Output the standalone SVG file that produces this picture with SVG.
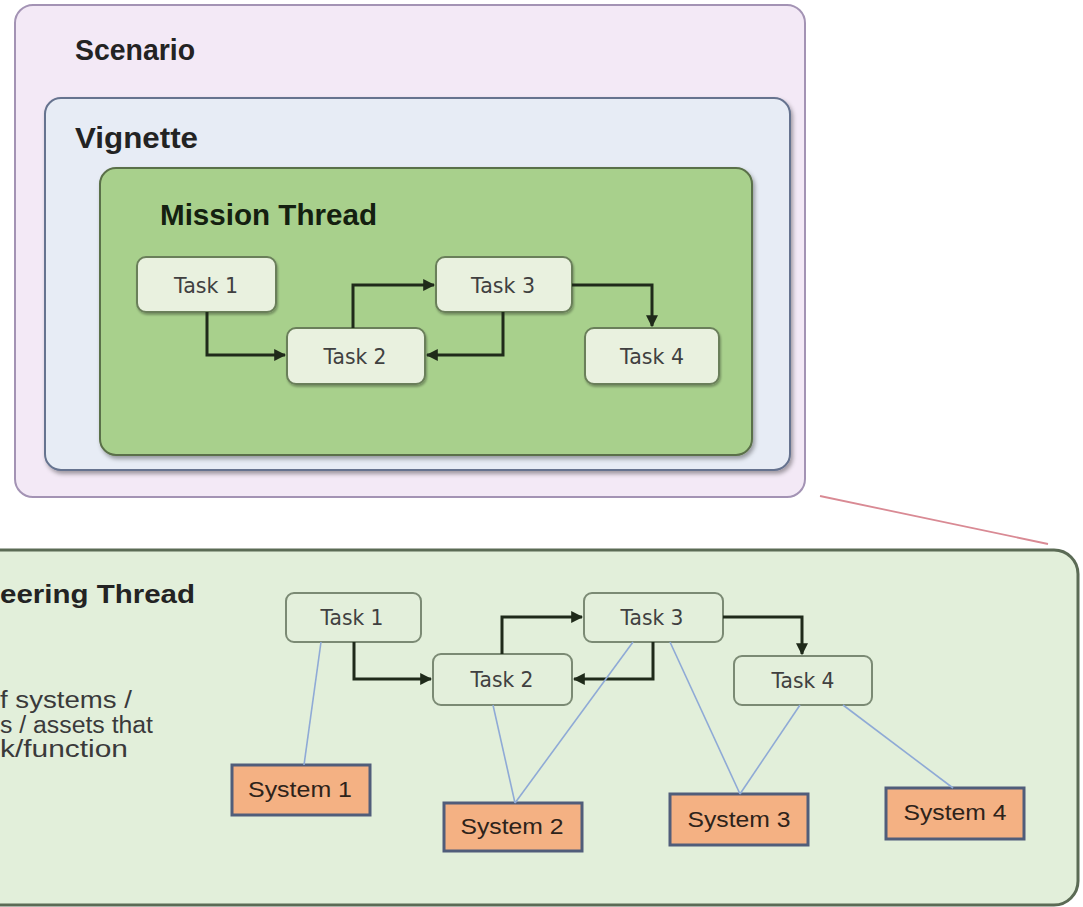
<svg xmlns="http://www.w3.org/2000/svg" width="1083" height="907" viewBox="0 0 1083 907">
<defs>
<style>
.head{font-family:"Liberation Sans","Open Sans",sans-serif;font-weight:bold;font-size:30px;fill:#232323}
.task{font-family:"DejaVu Sans",sans-serif;font-size:21px;fill:#404040;text-anchor:middle}
.sys{font-family:"Liberation Sans","Open Sans",sans-serif;font-size:22px;fill:#2e231a;text-anchor:middle}
.desc{font-family:"Liberation Sans","Open Sans",sans-serif;font-size:23px;fill:#3a3a3a}
.ttop{fill:#e9f1df;stroke:#6a7f5a;stroke-width:2}
.tbot{fill:#e3efdb;stroke:#7b8a74;stroke-width:2}
.sysbox{fill:#f4b183;stroke:#505d7a;stroke-width:3}
.flow{fill:none;stroke:#1f2a1a;stroke-width:3}
.link{fill:none;stroke:#8faad6;stroke-width:1.6}
</style>
<marker id="ah" viewBox="0 0 10 10" refX="9" refY="5" markerWidth="4" markerHeight="4" orient="auto" markerUnits="strokeWidth">
<path d="M0,0 L10,5 L0,10 z" fill="#1f2a1a"/>
</marker>
<filter id="sh" x="-5%" y="-5%" width="110%" height="115%">
<feDropShadow dx="2" dy="3" stdDeviation="2" flood-color="#000" flood-opacity="0.35"/>
</filter>
<filter id="sh2" x="-10%" y="-10%" width="120%" height="130%">
<feDropShadow dx="1" dy="2" stdDeviation="1.2" flood-color="#000" flood-opacity="0.3"/>
</filter>
</defs>

<g id="scenario">
<rect x="15" y="5" width="790" height="492" rx="18" fill="#f3e9f6" stroke="#a393b4" stroke-width="2"/>
<text class="head" x="75" y="60" textLength="120" lengthAdjust="spacingAndGlyphs">Scenario</text>
</g>
<g id="vignette">
<rect x="45" y="98" width="745" height="372" rx="16" fill="#e7ecf5" stroke="#66738f" stroke-width="2" filter="url(#sh)"/>
<text class="head" x="75" y="148" textLength="123" lengthAdjust="spacingAndGlyphs">Vignette</text>
</g>
<g id="mission-thread">
<rect x="100" y="168" width="652" height="287" rx="16" fill="#a8d08c" stroke="#5a7048" stroke-width="2" filter="url(#sh)"/>
<text class="head" x="160" y="225" textLength="217" lengthAdjust="spacingAndGlyphs" style="fill:#142010">Mission Thread</text>
</g>
<g id="mt-task1"><rect class="ttop" x="137" y="257" width="139" height="55" rx="9" filter="url(#sh2)"/><text class="task" x="206" y="293" textLength="64" lengthAdjust="spacingAndGlyphs">Task 1</text></g>
<g id="mt-task2"><rect class="ttop" x="287" y="328" width="138" height="56" rx="9" filter="url(#sh2)"/><text class="task" x="355" y="364" textLength="63" lengthAdjust="spacingAndGlyphs">Task 2</text></g>
<g id="mt-task3"><rect class="ttop" x="436" y="257" width="136" height="55" rx="9" filter="url(#sh2)"/><text class="task" x="503" y="293" textLength="64" lengthAdjust="spacingAndGlyphs">Task 3</text></g>
<g id="mt-task4"><rect class="ttop" x="585" y="328" width="134" height="56" rx="9" filter="url(#sh2)"/><text class="task" x="652" y="364" textLength="64" lengthAdjust="spacingAndGlyphs">Task 4</text></g>

<g id="zoom-line">
<line x1="820" y1="496" x2="1048" y2="544" stroke="#d98a94" stroke-width="1.8"/>
</g>

<g id="engineering-thread">
<rect x="-30" y="550" width="1108" height="355" rx="24" fill="#e2efda" stroke="#5b6b55" stroke-width="3"/>
<text class="head" x="0" y="603" style="font-size:26px" textLength="195" lengthAdjust="spacingAndGlyphs">eering Thread</text>
<text class="desc" x="0" y="708" textLength="132" lengthAdjust="spacingAndGlyphs">f systems /</text>
<text class="desc" x="0" y="733" textLength="153" lengthAdjust="spacingAndGlyphs">s / assets that</text>
<text class="desc" x="0" y="757" textLength="128" lengthAdjust="spacingAndGlyphs">k/function</text>
</g>
<g id="et-task1"><rect class="tbot" x="286" y="593" width="135" height="49" rx="8"/><text class="task" x="352" y="625" textLength="63" lengthAdjust="spacingAndGlyphs">Task 1</text></g>
<g id="et-task2"><rect class="tbot" x="433" y="654" width="139" height="51" rx="8"/><text class="task" x="502" y="687" textLength="63" lengthAdjust="spacingAndGlyphs">Task 2</text></g>
<g id="et-task3"><rect class="tbot" x="584" y="593" width="139" height="49" rx="8"/><text class="task" x="652" y="625" textLength="63" lengthAdjust="spacingAndGlyphs">Task 3</text></g>
<g id="et-task4"><rect class="tbot" x="734" y="656" width="138" height="49" rx="8"/><text class="task" x="803" y="688" textLength="63" lengthAdjust="spacingAndGlyphs">Task 4</text></g>
<g id="system1"><rect class="sysbox" x="232" y="765" width="138" height="50"/><text class="sys" x="300" y="797" textLength="104" lengthAdjust="spacingAndGlyphs">System 1</text></g>
<g id="system2"><rect class="sysbox" x="444" y="803" width="138" height="48"/><text class="sys" x="512" y="834" textLength="103" lengthAdjust="spacingAndGlyphs">System 2</text></g>
<g id="system3"><rect class="sysbox" x="670" y="794" width="138" height="51"/><text class="sys" x="739" y="827" textLength="103" lengthAdjust="spacingAndGlyphs">System 3</text></g>
<g id="system4"><rect class="sysbox" x="886" y="788" width="138" height="51"/><text class="sys" x="955" y="820" textLength="103" lengthAdjust="spacingAndGlyphs">System 4</text></g>

<g id="connectors">
<path class="flow" d="M207,312 V355 H285" marker-end="url(#ah)"/>
<path class="flow" d="M353,328 V285 H434" marker-end="url(#ah)" stroke-width="2"/>
<path class="flow" d="M503,312 V355 H427" marker-end="url(#ah)"/>
<path class="flow" d="M572,285 H652 V326" marker-end="url(#ah)" stroke-width="2"/>
<path class="flow" d="M354,642 V679 H431" marker-end="url(#ah)"/>
<path class="flow" d="M502,654 V617 H582" marker-end="url(#ah)" stroke-width="2.5"/>
<path class="flow" d="M653,642 V679 H574" marker-end="url(#ah)"/>
<path class="flow" d="M723,617 H802 V654" marker-end="url(#ah)" stroke-width="2.5"/>
<line class="link" x1="321" y1="642" x2="304" y2="765"/>
<line class="link" x1="493" y1="705" x2="515" y2="803"/>
<line class="link" x1="633" y1="642" x2="515" y2="803"/>
<line class="link" x1="670" y1="642" x2="740" y2="794"/>
<line class="link" x1="800" y1="705" x2="740" y2="794"/>
<line class="link" x1="843" y1="705" x2="953" y2="788"/>
</g>
</svg>
